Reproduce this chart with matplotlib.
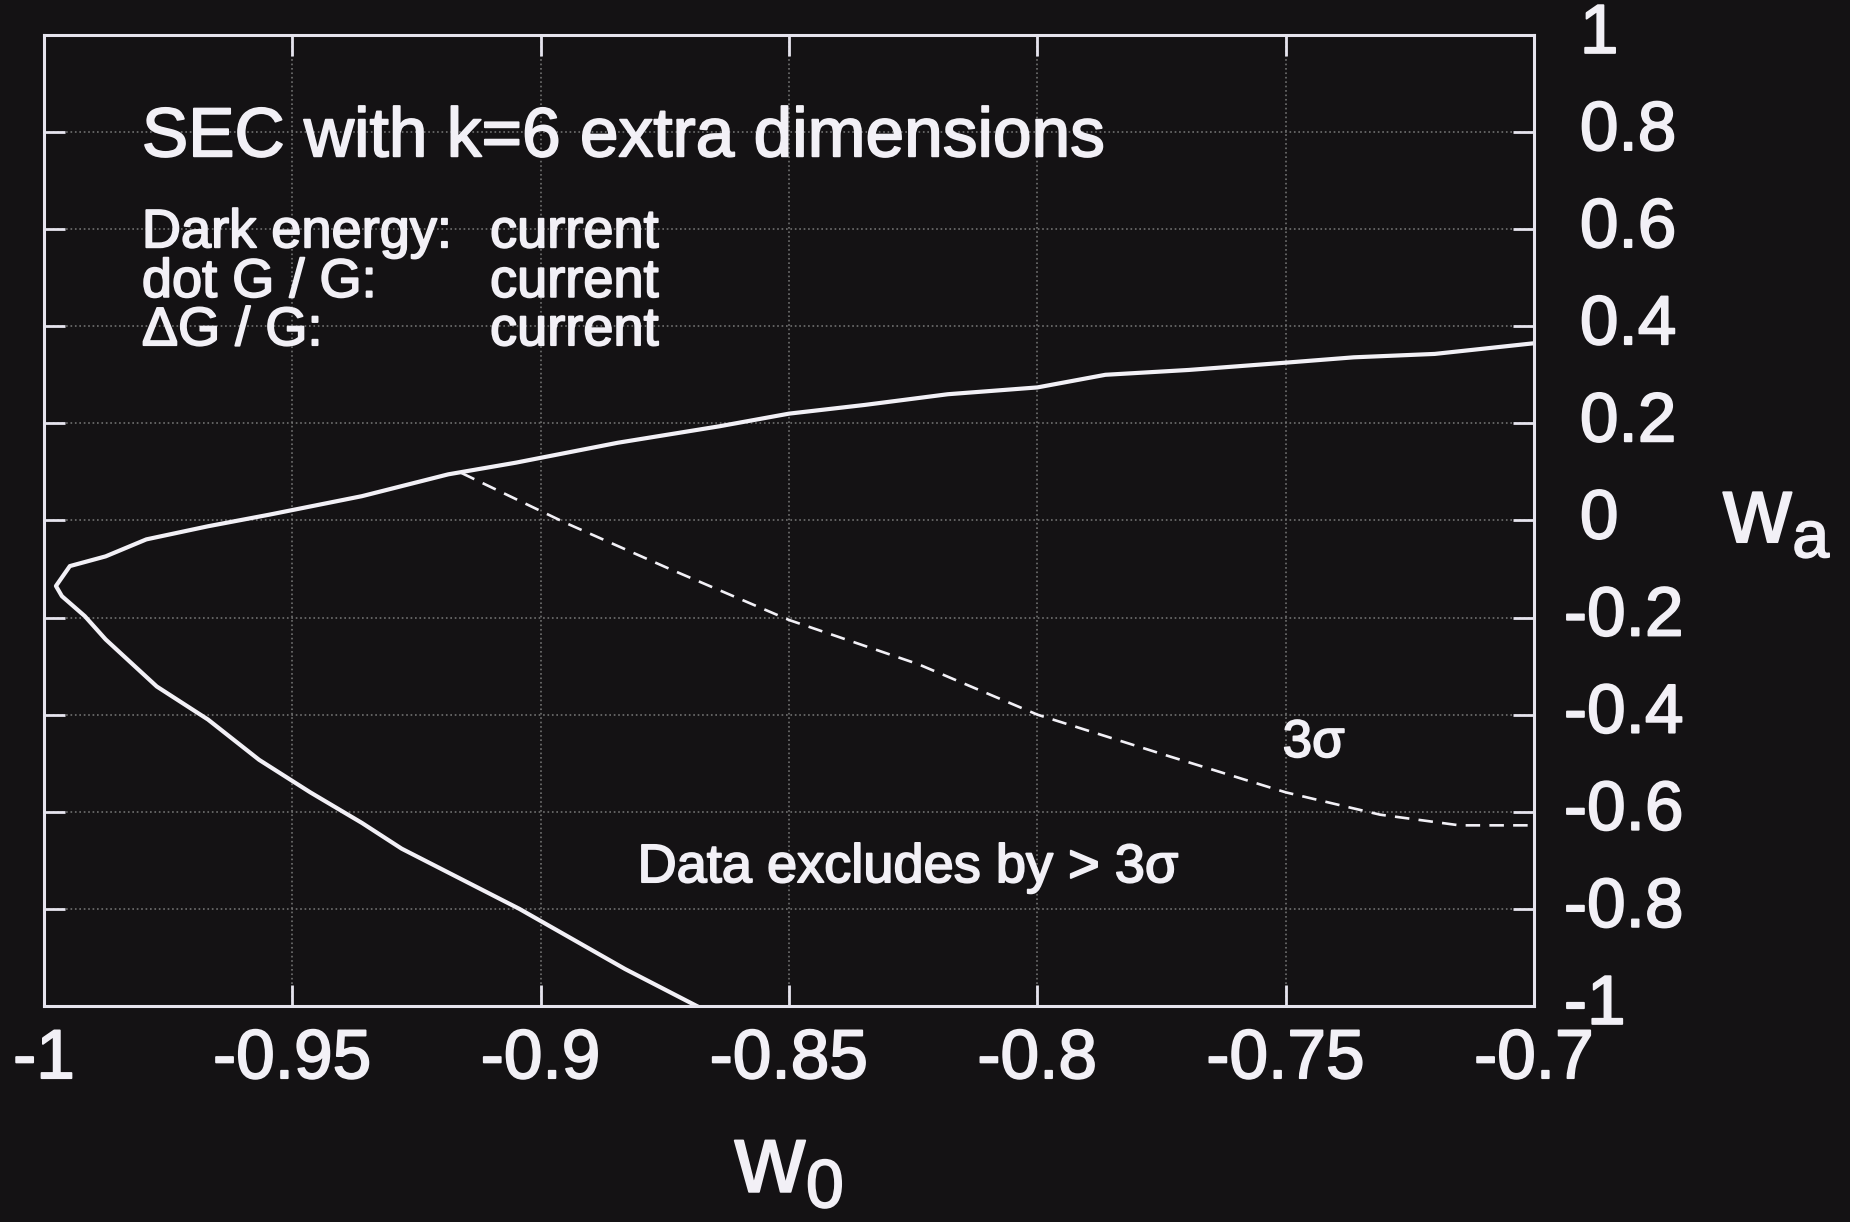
import matplotlib
matplotlib.use('Agg')
import matplotlib.pyplot as plt
import matplotlib.patheffects as pe
from matplotlib.ticker import FixedLocator, FixedFormatter

plt.rcParams['font.family'] = ['Liberation Sans', 'DejaVu Sans']
plt.rcParams['axes.unicode_minus'] = False

# contour del 3 sigma (linea solida)
w0_solid = [-0.8686, -0.883, -0.9043, -0.928, -0.936, -0.9464, -0.9567, -0.967,
            -0.9773, -0.9876, -0.9918, -0.9964, -0.9976, -0.9948, -0.9876, -0.9794,
            -0.967, -0.9546, -0.936, -0.9186, -0.905, -0.8845, -0.864, -0.85,
            -0.8347, -0.818, -0.80, -0.7863, -0.7695, -0.75, -0.7363, -0.72, -0.70]
wa_solid = [-1.0, -0.924, -0.80, -0.676, -0.623, -0.56, -0.493, -0.41,
            -0.342, -0.245, -0.197, -0.156, -0.135, -0.094, -0.074, -0.039,
            -0.012, 0.012, 0.05, 0.095, 0.119, 0.16, 0.194, 0.22,
            0.238, 0.26, 0.274, 0.30, 0.31, 0.325, 0.336, 0.343, 0.365]

# linea discontinua
w0_dash = [-0.916, -0.895, -0.874, -0.85, -0.824, -0.80, -0.774, -0.75, -0.731, -0.715, -0.70]
wa_dash = [0.098, -0.005, -0.10, -0.205, -0.296, -0.40, -0.484, -0.56, -0.606, -0.628, -0.628]

xticks = [-1, -0.95, -0.9, -0.85, -0.8, -0.75, -0.7]
xlabels = ['-1', '-0.95', '-0.9', '-0.85', '-0.8', '-0.75', '-0.7']
yticks = [1, 0.8, 0.6, 0.4, 0.2, 0, -0.2, -0.4, -0.6, -0.8, -1]
ylabels = ['1', '0.8', '0.6', '0.4', '0.2', '0', '-0.2', '-0.4', '-0.6', '-0.8', '-1']

bg = '#141214'
fg = '#f2f0f6'
glow = [pe.withStroke(linewidth=1.3, foreground=fg)]

fig = plt.figure(figsize=(18.5, 12.22), dpi=100, facecolor=bg)
ax = fig.add_axes([0.0238, 0.1768, 0.8054, 0.7946], facecolor=bg)

ax.plot(w0_solid, wa_solid, color=fg, lw=3, solid_joinstyle='round')
ax.plot(w0_dash, wa_dash, color=fg, lw=1.9, dashes=(5.5, 3.5))

ax.set_xlim(-1, -0.7)
ax.set_ylim(-1, 1)
ax.xaxis.set_major_locator(FixedLocator(xticks))
ax.xaxis.set_major_formatter(FixedFormatter(xlabels))
ax.yaxis.set_major_locator(FixedLocator(yticks))

ax.grid(True, color='#707070', ls=':', lw=1.2)
for s in ax.spines.values():
    s.set_color('#e6e4ee')
    s.set_linewidth(2.2)

ax.tick_params(axis='both', direction='in', length=15, width=2, color='#e6e4ee',
               top=True, right=True)
ax.tick_params(axis='x', labelsize=50, labelcolor=fg, pad=16)
ax.tick_params(axis='y', labelleft=False, labelright=False)
for t in ax.get_xticklabels():
    t.set_path_effects(glow)

# etiquetas del eje y a la derecha (el signo menos cuelga a la izquierda)
for v, lab in zip(yticks, ylabels):
    dx = 21.5 if lab.startswith('-') else 33
    ax.annotate(lab, xy=(1, v), xycoords=('axes fraction', 'data'),
                xytext=(dx, 0), textcoords='offset points',
                ha='left', va='center', fontsize=50, color=fg, path_effects=glow)

# textos
txt = dict(color=fg, va='baseline', path_effects=glow)
ax.text(-0.9803, 0.75, 'SEC with k=6 extra dimensions', fontsize=50, **txt)
ax.text(-0.9803, 0.5626, 'Dark energy:', fontsize=39, **txt)
ax.text(-0.9803, 0.4605, 'dot G / G:', fontsize=39, **txt)
ax.text(-0.9803, 0.361, '\u0394G / G:', fontsize=39, **txt)
for y in [0.5626, 0.4605, 0.361]:
    ax.text(-0.9102, y, 'current', fontsize=39, **txt)
ax.text(-0.7506, -0.487, '3\u03c3', fontsize=38, **txt)
ax.text(-0.8805, -0.745, 'Data excludes by > 3\u03c3', fontsize=39, **txt)

# titulos de los ejes
ax.text(0.5, -0.1916, r'$\mathregular{w_0}$', transform=ax.transAxes,
        fontsize=70, color=fg, ha='center', va='baseline', path_effects=glow)
ax.text(1.127, 0.4775, r'$\mathregular{w_a}$', transform=ax.transAxes,
        fontsize=68, color=fg, ha='left', va='baseline', path_effects=glow)

fig.savefig('out.png', dpi=100, facecolor=bg)
